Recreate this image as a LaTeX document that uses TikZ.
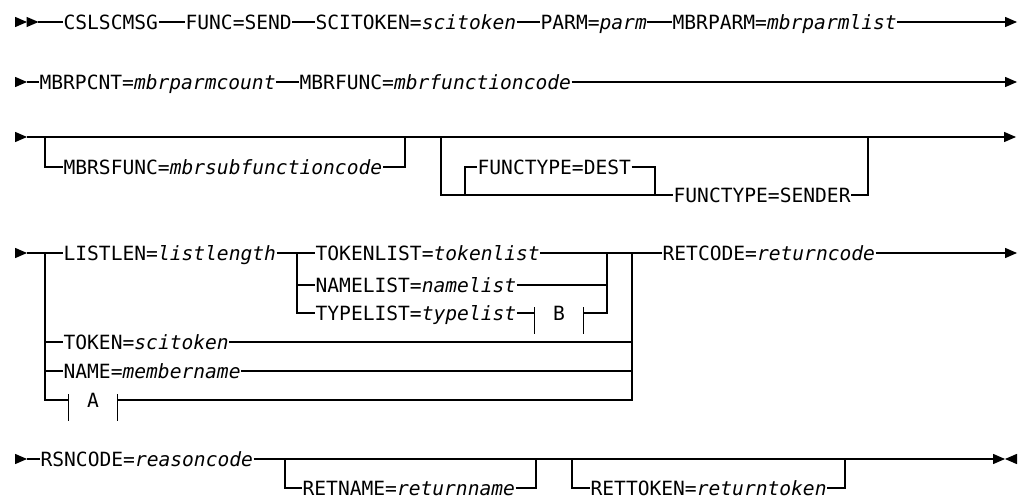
\documentclass[tikz,border=0pt]{standalone}
\usepackage{fontspec}
\setmonofont{DejaVu Sans Mono}
\usetikzlibrary{calc}
\begin{document}
\begin{tikzpicture}[x=1pt,y=-1pt,line width=1.2pt,
  lbl/.style={anchor=west,inner sep=0pt,text height=14.3pt,text depth=0pt,
    font=\ttfamily\fontsize{19.6pt}{20pt}\selectfont},
  fraglbl/.style={lbl,anchor=center,minimum width=48pt},
  rarr/.pic={\fill (0,-5.2) -- (12,0) -- (0,5.2) -- cycle;},
  larr/.pic={\fill (12,-5.2) -- (0,0) -- (12,5.2) -- cycle;}]
\useasboundingbox (0,0) rectangle (1026,500);

% ---------- Row 1 ----------
\pic at (15,22) {rarr};
\pic at (26.5,22) {rarr};
\coordinate (a1) at (38,22);
\node[lbl] (c1) at (63,22) {CSLSCMSG};
\node[lbl] (c2) at (185,22) {FUNC=SEND};
\node[lbl] (c3) at (315,22) {SCITOKEN=\textit{scitoken}};
\node[lbl] (c4) at (540,22) {PARM=\textit{parm}};
\node[lbl] (c5) at (672,22) {MBRPARM=\textit{mbrparmlist}};
\coordinate (e1) at (1005,22);
\draw (a1) -- (c1.west);
\draw (c1.east) -- (c2.west);
\draw (c2.east) -- (c3.west);
\draw (c3.east) -- (c4.west);
\draw (c4.east) -- (c5.west);
\draw (c5.east) -- (e1);
\pic at (e1) {rarr};

% ---------- Row 2 ----------
\pic at (15,82) {rarr};
\coordinate (a2) at (27,82);
\node[lbl] (d1) at (39,82) {MBRPCNT=\textit{mbrparmcount}};
\node[lbl] (d2) at (299,82) {MBRFUNC=\textit{mbrfunctioncode}};
\coordinate (e2) at (1005,82);
\draw (a2) -- (d1.west);
\draw (d1.east) -- (d2.west);
\draw (d2.east) -- (e2);
\pic at (e2) {rarr};

% ---------- Row 3 ----------
\pic at (15,137) {rarr};
\coordinate (a3) at (27,137);
\coordinate (e3) at (1004,137);
\draw (a3) -- (e3);
\pic at (e3) {rarr};
\coordinate (j1) at (45,137);
\coordinate (j2) at (405,137);
\node[lbl] (f1) at (63,167) {MBRSFUNC=\textit{mbrsubfunctioncode}};
\draw (j1) |- (f1.west);
\draw (f1.east) -| (j2);
\coordinate (j3) at (441,137);
\coordinate (j4) at (868,137);
\node[lbl] (g1) at (477,167) {FUNCTYPE=DEST};
\node[lbl] (g2) at (673,195) {FUNCTYPE=SENDER};
\draw (j3) |- (g2.west);
\draw (g2.east) -| (j4);
\coordinate (k1) at (465,195);
\coordinate (k2) at (655,195);
\draw (k1) |- (g1.west);
\draw (g1.east) -| (k2);

% ---------- Row 4 ----------
\pic at (15,253) {rarr};
\coordinate (a4) at (27,253);
\coordinate (r1) at (45,253);
\coordinate (r2) at (297,253);
\coordinate (r3) at (607,253);
\coordinate (r4) at (632,253);
\coordinate (e4) at (1005,253);
\node[lbl] (h1) at (63,253) {LISTLEN=\textit{listlength}};
\node[lbl] (h2) at (315,253) {TOKENLIST=\textit{tokenlist}};
\node[lbl] (h3) at (315,285) {NAMELIST=\textit{namelist}};
\node[lbl] (h4) at (315,313) {TYPELIST=\textit{typelist}};
\node[lbl] (h5) at (63,342) {TOKEN=\textit{scitoken}};
\node[lbl] (h6) at (63,371) {NAME=\textit{membername}};
\node[lbl] (h7) at (662,253) {RETCODE=\textit{returncode}};
\node[fraglbl] (fa) at (93,400) {A};
\node[fraglbl] (fb) at (559,313) {B};
\draw ($(fa.west)+(0,-6)$) -- ++(0,27);
\draw ($(fa.east)+(0,-6)$) -- ++(0,27);
\draw ($(fb.west)+(0,-6)$) -- ++(0,27);
\draw ($(fb.east)+(0,-6)$) -- ++(0,27);
\draw (a4) -- (h1.west);
\draw (h1.east) -- (h2.west);
\draw (h2.east) -- (h7.west);
\draw (h7.east) -- (e4);
\pic at (e4) {rarr};
\draw (r1) |- (h5.west);
\draw (r1) |- (h6.west);
\draw (r1) |- (fa.west);
\draw (h5.east) -| (r4);
\draw (h6.east) -| (r4);
\draw (fa.east) -| (r4);
\draw (r2) |- (h3.west);
\draw (r2) |- (h4.west);
\draw (h3.east) -| (r3);
\draw (h4.east) -- (fb.west);
\draw (fb.east) -| (r3);

% ---------- Row 5 ----------
\pic at (15,459) {rarr};
\coordinate (a5) at (27,459);
\node[lbl] (m1) at (40,459) {RSNCODE=\textit{reasoncode}};
\node[lbl] (m2) at (302,488) {RETNAME=\textit{returnname}};
\node[lbl] (m3) at (590,488) {RETTOKEN=\textit{returntoken}};
\coordinate (s1) at (285,459);
\coordinate (s2) at (536,459);
\coordinate (s3) at (572,459);
\coordinate (s4) at (845,459);
\coordinate (e5) at (993,459);
\draw (a5) -- (m1.west);
\draw (m1.east) -- (e5);
\draw (s1) |- (m2.west);
\draw (m2.east) -| (s2);
\draw (s3) |- (m3.west);
\draw (m3.east) -| (s4);
\pic at (e5) {rarr};
\pic at (1005,459) {larr};
\end{tikzpicture}
\end{document}
